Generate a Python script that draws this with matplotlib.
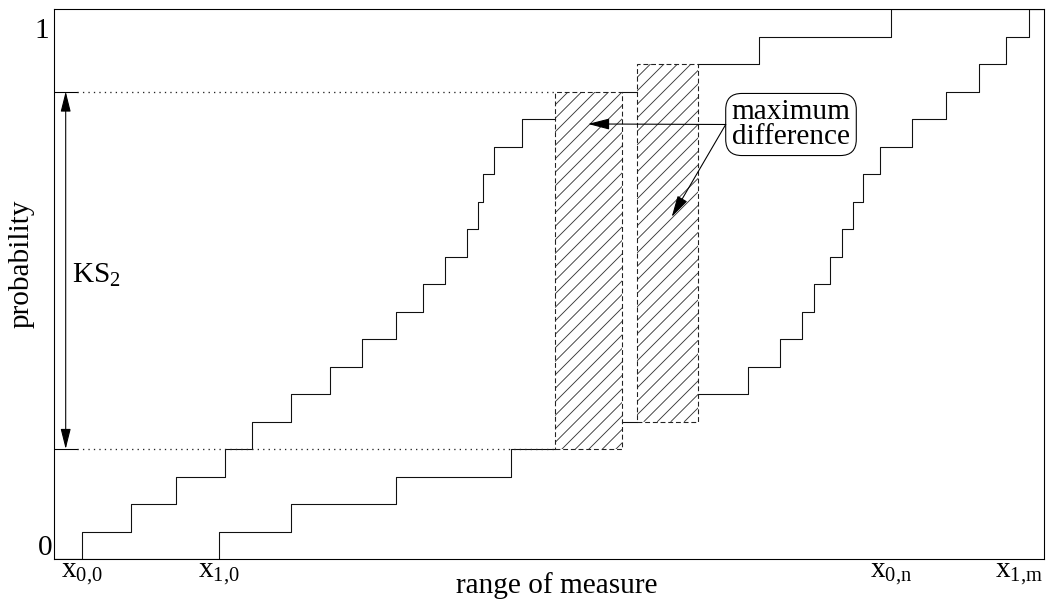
import numpy as np
import matplotlib
matplotlib.use("Agg")
import matplotlib.pyplot as plt
from matplotlib.patches import Rectangle
from matplotlib.transforms import blended_transform_factory, ScaledTranslation

# points on the measure axis where each empirical CDF jumps by 1/n
x0_steps = [28, 77, 122, 171, 198, 237, 276, 308, 342, 369,
            391, 413, 424, 429, 440, 468, 501, 583, 705, 837]
x1_steps = [165, 237, 342, 457, 568, 644, 694, 726, 748, 760,
            776, 788, 799, 809, 826, 858, 892, 925, 952, 975]
x_range = (0, 990)
tick_labels = [r'x$_{\mathrm{0{,}0}}$', r'x$_{\mathrm{1{,}0}}$',
               r'x$_{\mathrm{0{,}n}}$', r'x$_{\mathrm{1{,}m}}$']

plt.rcParams['font.family'] = 'Liberation Serif'
plt.rcParams['mathtext.fontset'] = 'custom'
plt.rcParams['mathtext.rm'] = 'Liberation Serif'
plt.rcParams['mathtext.it'] = 'Liberation Serif:italic'

FS = 27
DPI = 78
W, H = 1046, 599
AX_W, AX_H = 990, 550   # axes size in px


def cdf(steps, x):
    return np.searchsorted(steps, x, side='right') / len(steps)


def stair(ax, steps, lo, hi):
    xs = [lo] + [s for s in steps if lo < s < hi] + [hi]
    ys = [cdf(steps, v) for v in xs[:-1]]
    ys.append(ys[-1])
    ax.step(xs, ys, where='post', color='#111111', lw=1.0)


def hatched_box(ax, x, y, w, h, gap=13.5):
    box = Rectangle((x, y), w, h, fill=False, edgecolor='#222222', lw=1.0,
                    linestyle=(0, (4.5, 2.6)), zorder=3)
    ax.add_patch(box)
    # 45 degree lines in screen space (1 x-unit = 1 px, 1 y-unit = AX_H px)
    span = h * AX_H
    for s in np.arange(x - span, x + w, gap):
        ln, = ax.plot([s, s + span], [y, y + h], color='#333333', lw=0.8)
        ln.set_clip_path(box)


fig = plt.figure(figsize=(W / DPI, H / DPI), dpi=DPI)
ax = fig.add_axes([54 / W, 40 / H, AX_W / W, AX_H / H])
ax.set_xlim(*x_range)
ax.set_ylim(0, 1)

# where the two CDFs are furthest apart
grid = np.unique(np.concatenate([x0_steps, x1_steps]))
diff = cdf(x0_steps, grid) - cdf(x1_steps, grid)
idx = np.where(np.isclose(diff, diff.max()))[0]
spans = [(grid[i], grid[i + 1]) for i in idx]

# solid parts of the curves, dashed rectangles take the rest
cuts = [x_range[0]] + [v for s in spans for v in s] + [x_range[1]]
for lo, hi in zip(cuts[0::2], cuts[1::2]):
    stair(ax, x0_steps, lo, hi)
    stair(ax, x1_steps, lo, hi)

for lo, hi in spans:
    y_lo = cdf(x1_steps, lo)
    y_hi = cdf(x0_steps, lo)
    hatched_box(ax, lo, y_lo, hi - lo, y_hi - y_lo)

# KS statistic marker
ks_lo = cdf(x1_steps, spans[0][0])
ks_hi = cdf(x0_steps, spans[0][0])
for yv in (ks_lo, ks_hi):
    ax.plot([0, 22.7], [yv, yv], color='k', lw=1.0)
    ax.plot([22.7, spans[0][0]], [yv, yv], color='#222222', lw=1.2,
            linestyle=(0, (1, 3.2)))
ax.annotate('', xy=(11.7, ks_hi), xytext=(11.7, ks_lo),
            arrowprops=dict(arrowstyle='<|-|>,head_length=0.8,head_width=0.2',
                            color='k', lw=1.0, shrinkA=0, shrinkB=0,
                            mutation_scale=20))
ax.text(17.7, 0.502, r'KS$_2$', fontsize=FS, ha='left', va='baseline')

# label box with two arrows
ax.text(737, 0.79, 'maximum\ndifference', fontsize=FS, ha='center',
        va='center', linespacing=0.92,
        bbox=dict(boxstyle='round,pad=0.2,rounding_size=0.55', fc='white',
                  ec='k', lw=1.0))
for tip in [(534, 0.791), (617.7, 0.622)]:
    ax.annotate('', xy=tip, xytext=(671.7, 0.79),
                arrowprops=dict(arrowstyle='-|>,head_length=0.85,head_width=0.22',
                                color='k', lw=1.0, shrinkA=0, shrinkB=0,
                                mutation_scale=20))

ax.set_xticks([x0_steps[0], x1_steps[0], x0_steps[-1], x1_steps[-1]])
ax.set_xticklabels(tick_labels, fontsize=FS)
ax.tick_params(axis='x', length=0, pad=2)
ax.set_yticks([])
last = ax.get_xticklabels()[-1]
last.set_horizontalalignment('right')
last.set_transform(last.get_transform() + ScaledTranslation(14 / DPI, 0, fig.dpi_scale_trans))

trans = blended_transform_factory(ax.transAxes, ax.transData)
ax.text(-0.002, 0.0073, '0', transform=trans, fontsize=FS, ha='right', va='baseline')
ax.text(-0.005, 0.947, '1', transform=trans, fontsize=FS, ha='right', va='baseline')

ax.set_xlabel('range of measure', fontsize=FS)
ax.xaxis.set_label_coords(0.508, -0.023)
ax.xaxis.label.set_va('top')
ax.set_ylabel('probability', fontsize=FS)
ax.yaxis.set_label_coords(-0.02, 0.536)

for sp in ax.spines.values():
    sp.set_linewidth(1.0)
    sp.set_color('k')

fig.savefig('out.png', dpi=DPI)
